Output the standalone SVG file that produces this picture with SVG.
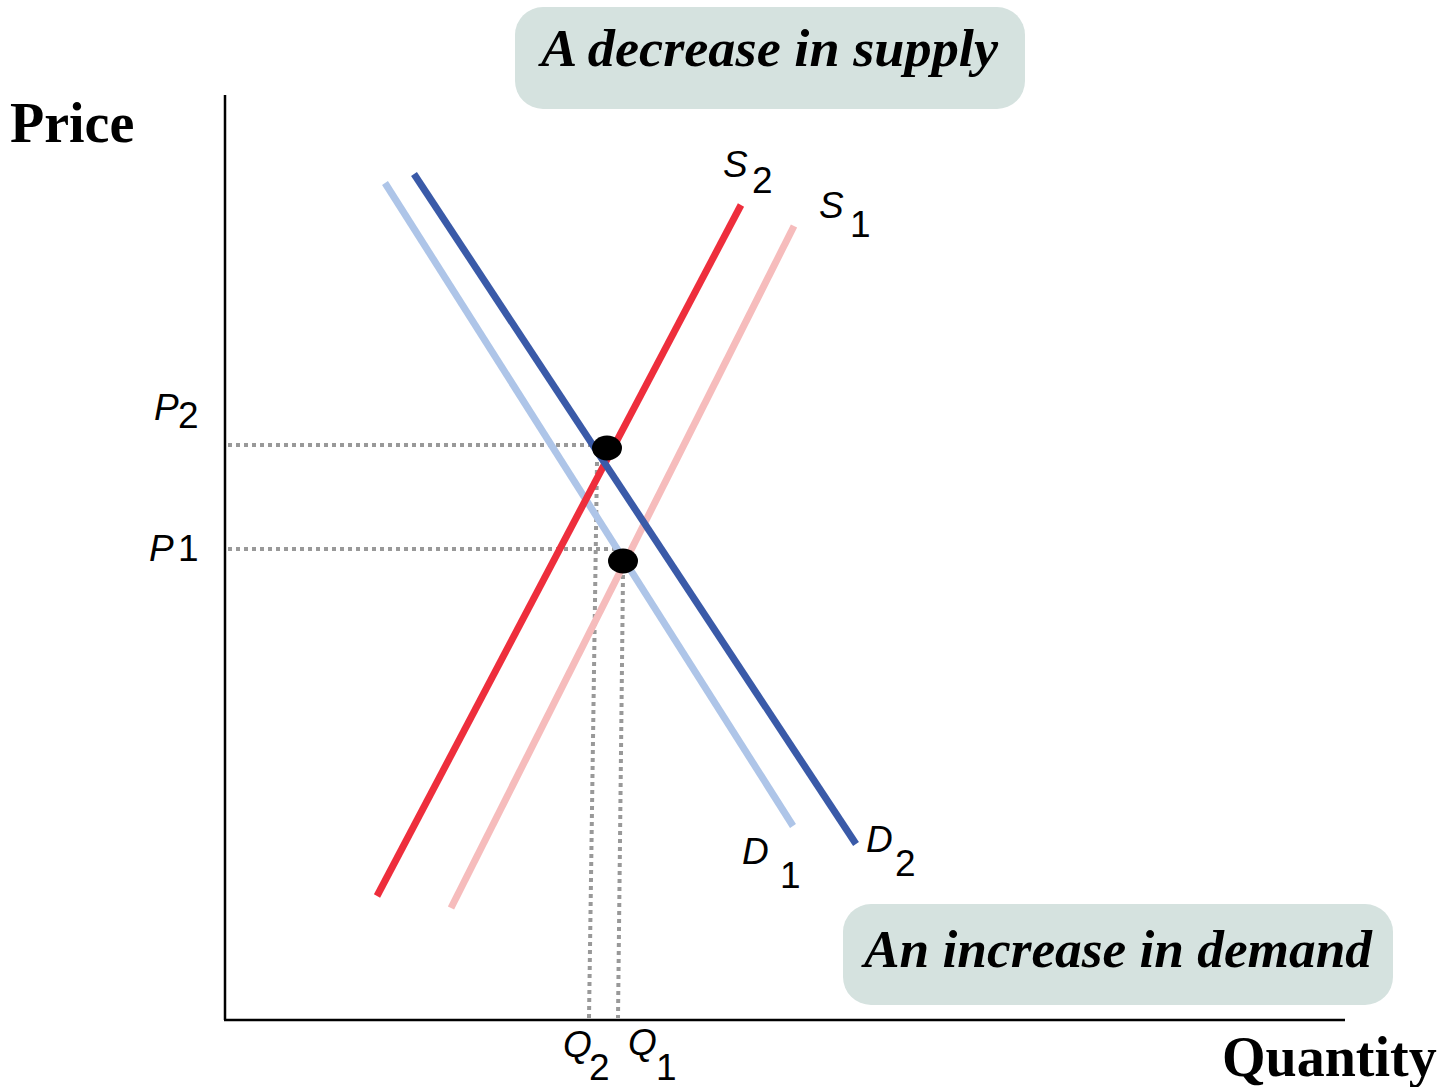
<svg xmlns="http://www.w3.org/2000/svg" width="1445" height="1087" viewBox="0 0 1445 1087">
<style>
.ax{stroke:#000;stroke-width:2.5;fill:none}
.dot{stroke:#999;stroke-width:4;stroke-dasharray:4 4;fill:none}
.cv{stroke-width:7;fill:none}
.lbl{font-family:"Liberation Sans",Arial,sans-serif;font-size:37px;fill:#000}
.it{font-style:italic}
.ttl{font-family:"Liberation Serif","Times New Roman",serif;font-weight:bold;font-size:56px;fill:#000}
.box{fill:#d5e2df}
.bt{font-family:"Liberation Serif","Times New Roman",serif;font-weight:bold;font-style:italic;font-size:52px;fill:#000}
</style>
<g id="axes">
<line class="ax" x1="225" y1="95" x2="225" y2="1020"/>
<line class="ax" x1="224" y1="1020" x2="1345" y2="1020"/>
<text class="ttl" x="10" y="142">Price</text>
<text class="ttl" x="1222" y="1076">Quantity</text>
</g>
<g id="guides">
<line class="dot" x1="228" y1="445" x2="600" y2="445"/>
<line class="dot" x1="228" y1="549" x2="618" y2="549"/>
<line class="dot" x1="597" y1="462" x2="589" y2="1018"/>
<line class="dot" x1="623" y1="575" x2="618" y2="1018"/>
</g>
<g id="curves">
<line id="D1" class="cv" stroke="#aec5e8" x1="385" y1="183" x2="793" y2="826"/>
<line id="S1" class="cv" stroke="#f6bcbc" x1="451" y1="908" x2="794" y2="226"/>
<line id="S2" class="cv" stroke="#ee2e3c" x1="377" y1="896" x2="741" y2="205"/>
<line id="D2" class="cv" stroke="#3a5aa8" x1="414" y1="174" x2="856" y2="844"/>
</g>
<g id="points">
<ellipse cx="607" cy="448" rx="15" ry="12.5" fill="#000"/>
<ellipse cx="623" cy="561" rx="15" ry="12.5" fill="#000"/>
</g>
<g id="labels">
<text class="lbl" x="154" y="420"><tspan class="it">P</tspan><tspan x="178" y="428">2</tspan></text>
<text class="lbl" x="149" y="561"><tspan class="it">P</tspan><tspan x="178">1</tspan></text>
<text class="lbl" x="723" y="177"><tspan class="it">S</tspan><tspan x="752" y="193">2</tspan></text>
<text class="lbl" x="819" y="218"><tspan class="it">S</tspan><tspan x="850" y="237">1</tspan></text>
<text class="lbl" x="742" y="864"><tspan class="it">D</tspan><tspan x="780" y="888">1</tspan></text>
<text class="lbl" x="866" y="852"><tspan class="it">D</tspan><tspan x="895" y="876">2</tspan></text>
<text class="lbl" x="563" y="1057"><tspan class="it">Q</tspan><tspan x="589" y="1080">2</tspan></text>
<text class="lbl" x="628" y="1055"><tspan class="it">Q</tspan><tspan x="656" y="1080">1</tspan></text>
</g>
<g id="supply-note">
<rect class="box" x="515" y="7" width="510" height="102" rx="28"/>
<text class="bt" x="541" y="66" textLength="457" lengthAdjust="spacingAndGlyphs">A decrease in supply</text>
</g>
<g id="demand-note">
<rect class="box" x="843" y="904" width="550" height="101" rx="28"/>
<text class="bt" x="864" y="967" textLength="508" lengthAdjust="spacingAndGlyphs">An increase in demand</text>
</g>
</svg>
